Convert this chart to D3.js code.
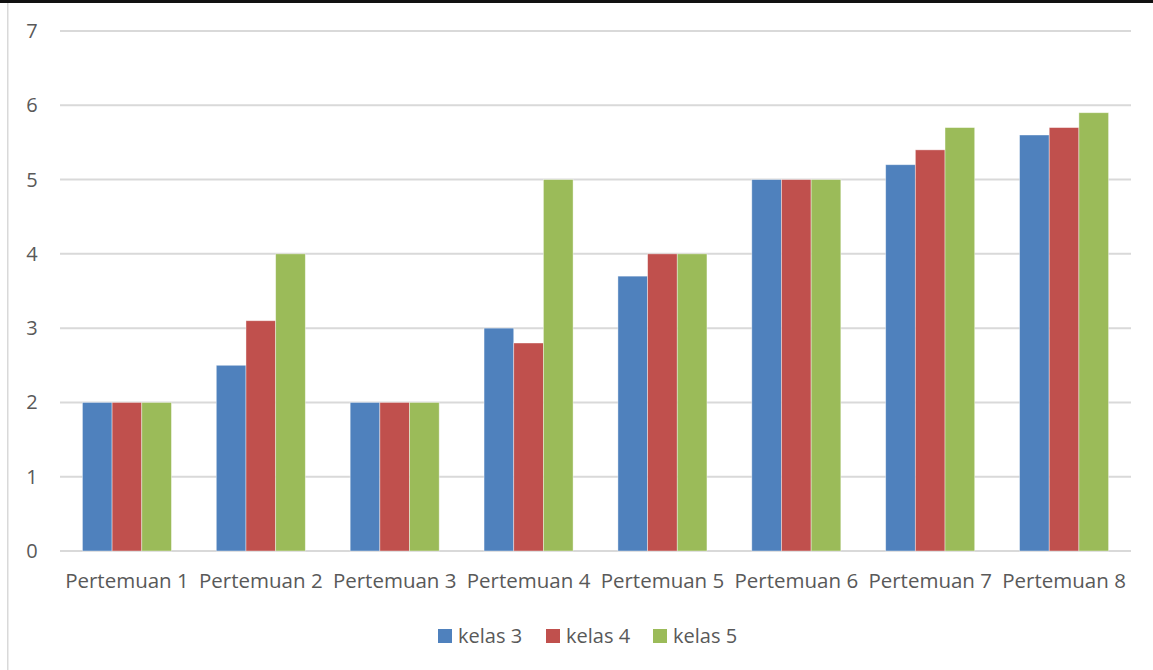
<!DOCTYPE html>
<html>
<head>
<meta charset="utf-8">
<script src="https://cdn.jsdelivr.net/npm/d3@7"></script>
<style>
  body { margin: 0; background: #fff; }
  svg { display: block; }
  text { font-family: "Open Sans", sans-serif; fill: #595959; }
</style>
</head>
<body>
<svg width="1153" height="670"></svg>
<script>
// categories and series
var categories = ['Pertemuan 1', 'Pertemuan 2', 'Pertemuan 3', 'Pertemuan 4',
                  'Pertemuan 5', 'Pertemuan 6', 'Pertemuan 7', 'Pertemuan 8'];
var seriesNames = ['kelas 3', 'kelas 4', 'kelas 5'];
var kelas3 = [2, 2.5, 2, 3, 3.7, 5, 5.2, 5.6];
var kelas4 = [2, 3.1, 2, 2.8, 4, 5, 5.4, 5.7];
var kelas5 = [2, 4, 2, 5, 4, 5, 5.7, 5.9];
var yTicks = [0, 1, 2, 3, 4, 5, 6, 7];
var colors = ['#4F81BD', '#C0504D', '#9BBB59'];

var series = [kelas3, kelas4, kelas5];

var svg = d3.select('svg');

// frame bits
svg.append('rect').attr('x', 0).attr('y', 0).attr('width', 1153).attr('height', 3).attr('fill', '#111');
svg.append('rect').attr('x', 7).attr('y', 3).attr('width', 1.5).attr('height', 667).attr('fill', '#d9d9d9');

// plot area
var plotLeft = 60, plotRight = 1131, plotTop = 31, plotBottom = 551;

// gap width 150% like excel
var x = d3.scaleBand().domain(categories).range([plotLeft, plotRight]).paddingInner(0.335).paddingOuter(0.1675);
var x1 = d3.scaleBand().domain(seriesNames).range([0, x.bandwidth()]);
var y = d3.scaleLinear().domain([0, 7]).range([plotBottom, plotTop]);

// gridlines
svg.append('g').selectAll('line').data(yTicks).enter().append('line')
  .attr('x1', plotLeft).attr('x2', plotRight)
  .attr('y1', d => y(d)).attr('y2', d => y(d))
  .attr('stroke', '#d9d9d9').attr('stroke-width', 2);

// y labels
svg.append('g').selectAll('text').data(yTicks).enter().append('text')
  .attr('x', 32).attr('y', d => y(d)).attr('dy', '0.35em')
  .attr('text-anchor', 'middle').style('font-size', '20px')
  .text(d => d);

// bars
var groups = svg.append('g').selectAll('g').data(categories).enter().append('g')
  .attr('transform', d => 'translate(' + x(d) + ',0)');

groups.selectAll('rect').data((d, i) => series.map((s, j) => ({name: seriesNames[j], v: s[i], c: colors[j]})))
  .enter().append('rect')
  .attr('x', d => x1(d.name))
  .attr('y', d => y(d.v))
  .attr('width', x1.bandwidth())
  .attr('height', d => plotBottom - y(d.v))
  .attr('fill', d => d.c)
  .attr('stroke', '#fff').attr('stroke-opacity', 0.5).attr('stroke-width', 0.8);

// x labels
svg.append('g').selectAll('text').data(categories).enter().append('text')
  .attr('x', d => x(d) + x.bandwidth() / 2).attr('y', 588)
  .attr('text-anchor', 'middle').style('font-size', '20.5px')
  .text(d => d);

// legend
var legendX = [438, 546, 653];
var legend = svg.append('g').selectAll('g').data(seriesNames).enter().append('g')
  .attr('transform', (d, i) => 'translate(' + legendX[i] + ',629)');
legend.append('rect').attr('width', 14).attr('height', 14).attr('fill', (d, i) => colors[i]);
legend.append('text').attr('x', 20).attr('y', 7).attr('dy', '0.35em')
  .style('font-size', '20px').text(d => d);
</script>
</body>
</html>
